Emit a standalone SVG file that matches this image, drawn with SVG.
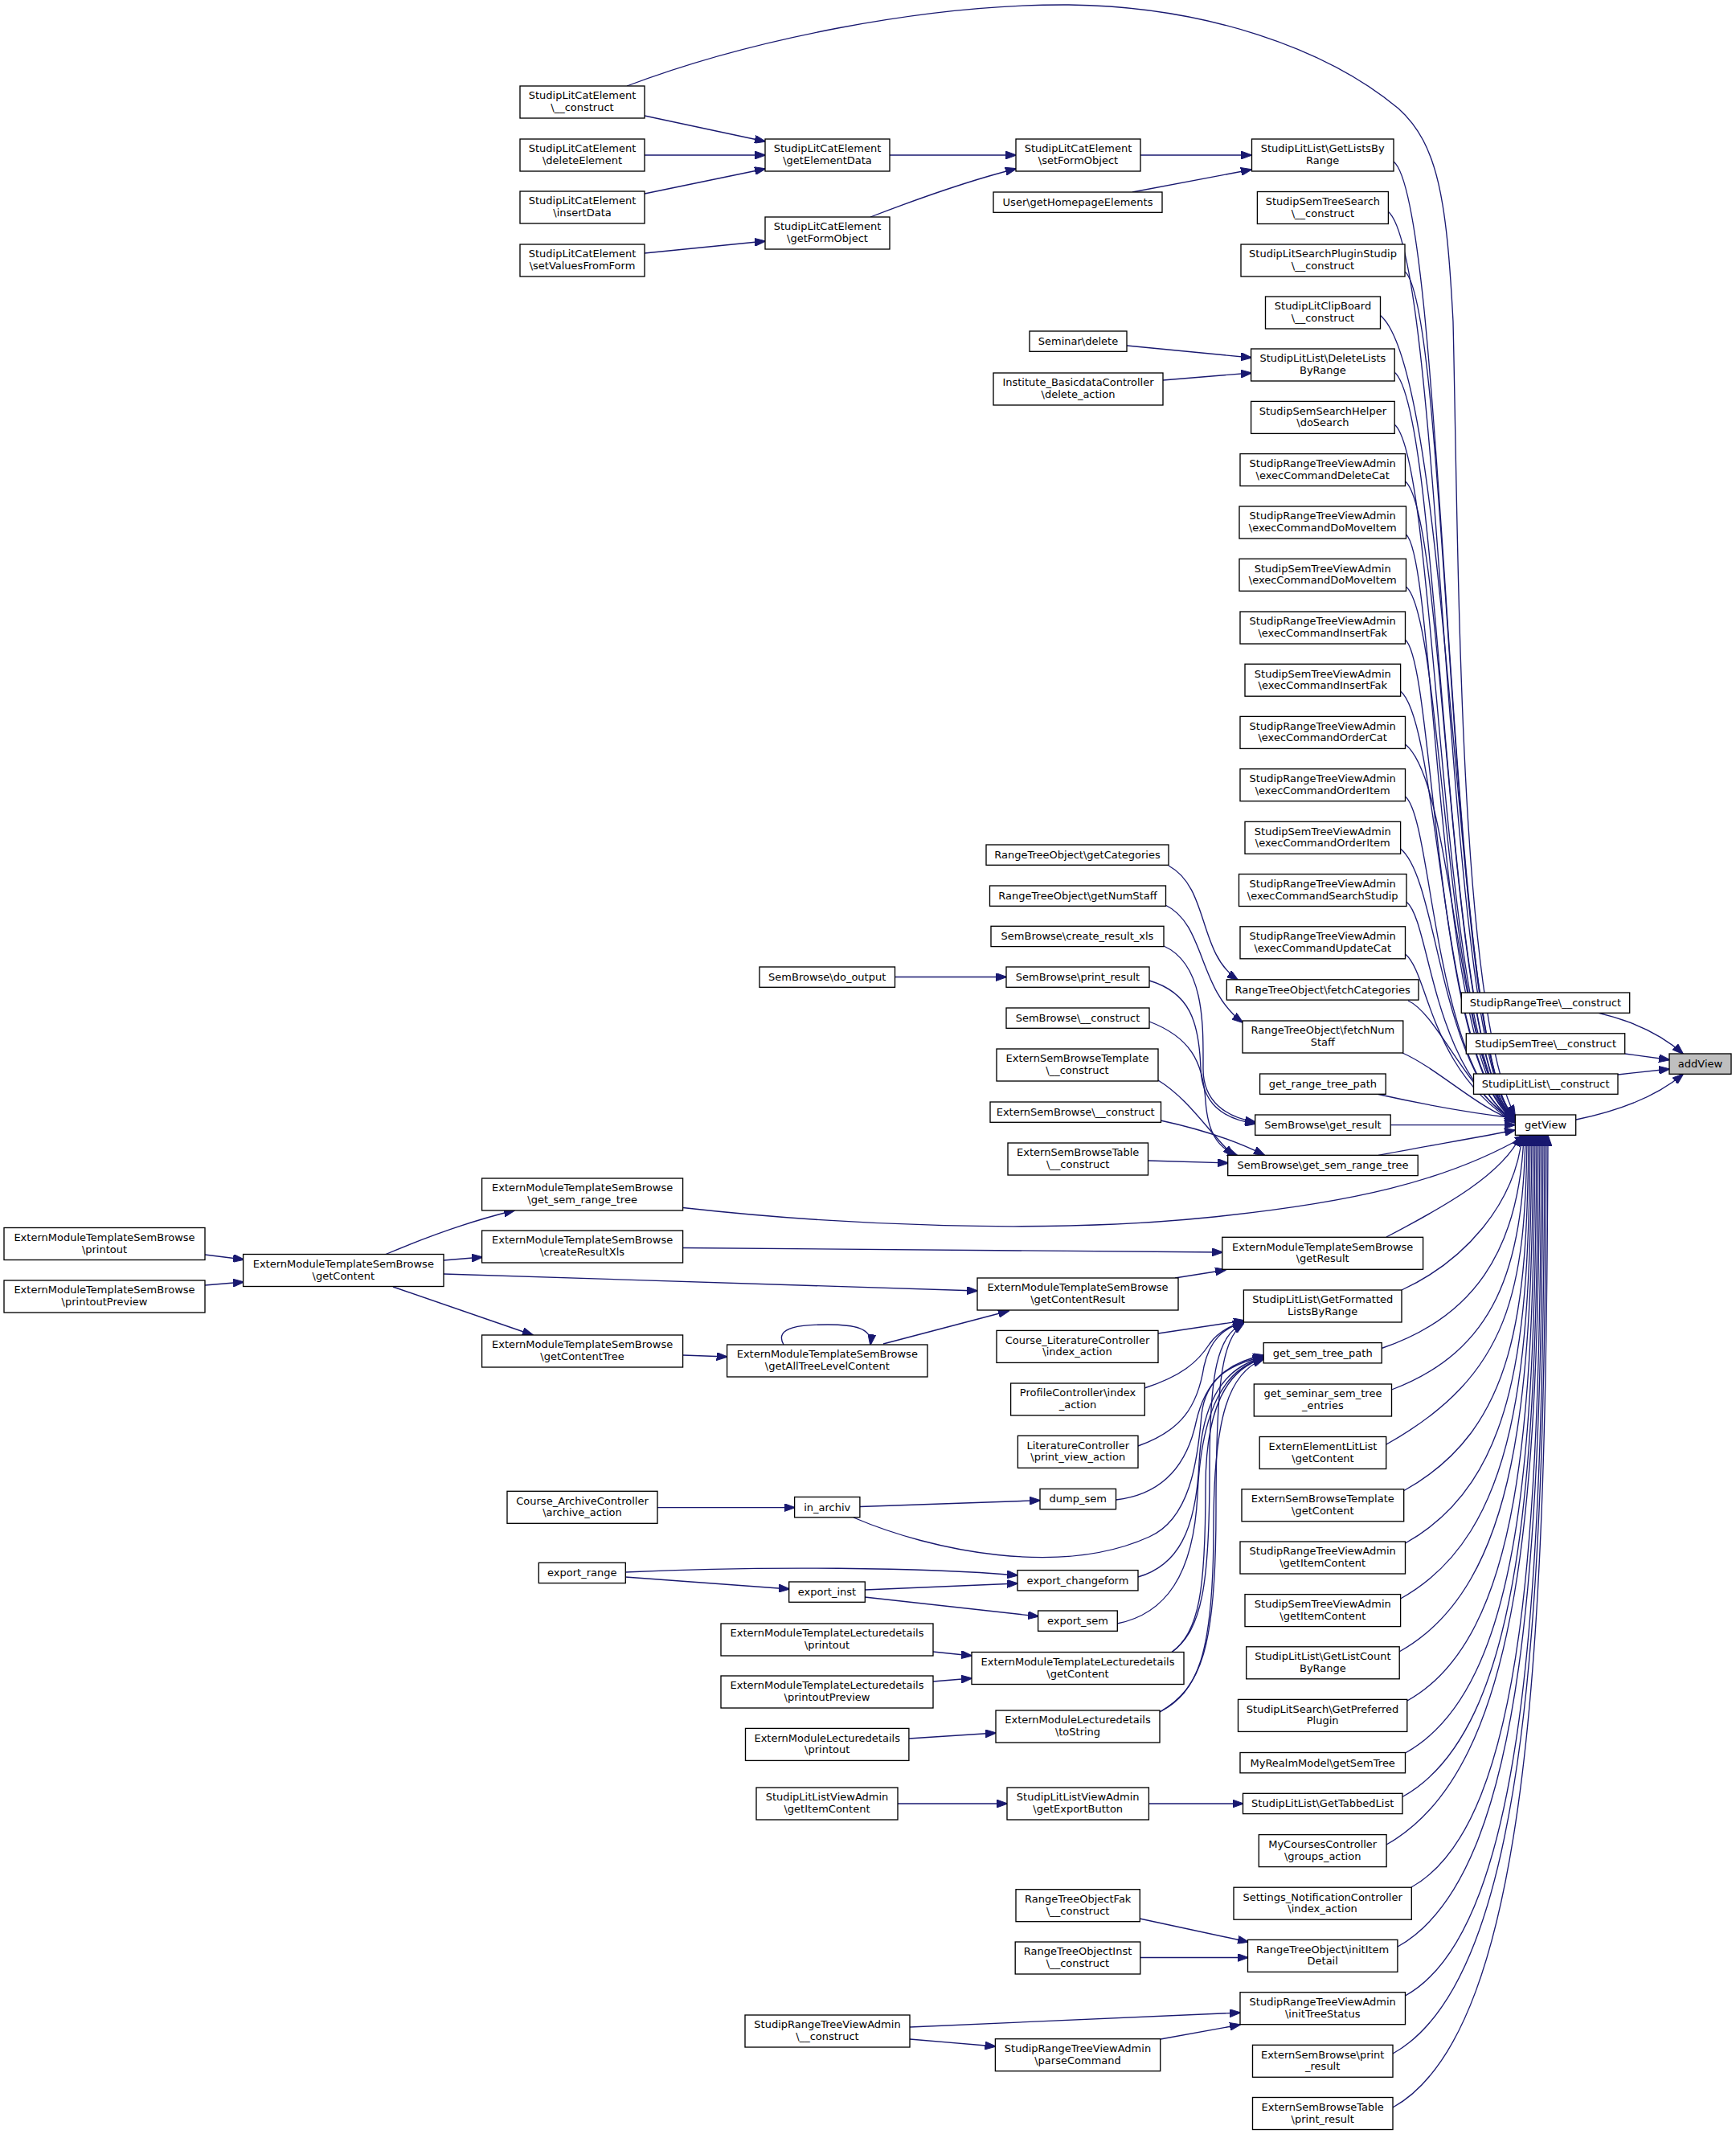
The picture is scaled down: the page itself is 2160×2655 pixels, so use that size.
<svg xmlns="http://www.w3.org/2000/svg" width="2160" height="2655" viewBox="0 0 2160 2655">
<defs>
<style>
.node rect{fill:#ffffff;stroke:#000000;stroke-width:1.33}
.node.root rect{fill:#bfbfbf}
.node text{font-family:"DejaVu Sans",Verdana,sans-serif;font-size:13px;text-anchor:middle;fill:#000000}
#edges path{fill:none;stroke:#191970;stroke-width:1.33;marker-end:url(#ah)}
</style>
<marker id="ah" markerUnits="userSpaceOnUse" markerWidth="14" markerHeight="10" refX="13" refY="5" orient="auto">
<path d="M0,0 L14,5 L0,10 z" fill="#191970" stroke="#191970" stroke-width="1"/>
</marker>
</defs>
<rect x="0" y="0" width="2160" height="2655" fill="#ffffff"/>

<g id="edges">
<path d="M802,144 L952,176"/>
<path d="M802,193 L952,193"/>
<path d="M802,241 L952,210"/>
<path d="M802,315 L952,300"/>
<path d="M1107,193 L1264,193"/>
<path d="M1083,270 C1140,248 1200,226 1264,210"/>
<path d="M1419,193 L1557,193"/>
<path d="M1409,239 L1557,211"/>
<path d="M1402,430 L1557,445"/>
<path d="M1447,473 L1557,464"/>
<path d="M1454,1077 C1505,1105 1490,1185 1540,1219"/>
<path d="M1450,1126 C1500,1150 1490,1230 1546,1272"/>
<path d="M1448,1177 C1500,1200 1497,1280 1497,1330 C1497,1370 1525,1390 1562,1396"/>
<path d="M1430,1220 C1480,1235 1492,1270 1494,1330 C1496,1372 1520,1392 1562,1398"/>
<path d="M1430,1271 C1480,1290 1497,1320 1500,1370 C1503,1410 1515,1428 1540,1438"/>
<path d="M1441,1344 C1480,1368 1505,1410 1535,1438"/>
<path d="M1444,1394 C1495,1405 1535,1418 1573,1437"/>
<path d="M1428.5,1444 L1528,1447"/>
<path d="M1113.5,1215.5 L1252,1215.5"/>
<path d="M849.5,1502.5 C1050,1525 1300,1535 1500,1515 C1680,1497 1800,1470 1898,1413"/>
<path d="M480,1560.5 C540,1535 590,1518 640,1506"/>
<path d="M552,1568 L600,1564"/>
<path d="M552,1585 L1216,1606"/>
<path d="M489,1601 L663,1661"/>
<path d="M255,1561 L303,1567"/>
<path d="M255,1599 L303,1595"/>
<path d="M849.5,1686 L904.6,1688"/>
<path d="M975,1673 C962,1650 1000,1648 1030,1648 C1062,1648 1086,1652 1083,1673"/>
<path d="M1099,1672 L1255,1631"/>
<path d="M1462,1590 L1525,1580"/>
<path d="M849.5,1552.5 C1100,1554 1350,1556 1521,1558"/>
<path d="M1441,1659 L1548,1643"/>
<path d="M1424,1727 C1470,1712 1490,1695 1505,1672 C1515,1658 1528,1650 1547,1645"/>
<path d="M1416,1799 C1470,1780 1490,1750 1498,1700 C1505,1668 1522,1652 1547,1645"/>
<path d="M818,1875.6 L988.6,1875.6"/>
<path d="M1070,1874.5 L1294,1866.7"/>
<path d="M1388.5,1866 C1440,1860 1475,1830 1488,1770 C1500,1715 1530,1695 1572,1686"/>
<path d="M1062,1888 C1160,1930 1320,1962 1430,1912 C1480,1890 1490,1820 1495,1760 C1500,1715 1530,1697 1572,1688"/>
<path d="M778,1956 C950,1948 1150,1950 1266,1960"/>
<path d="M778,1962 L982,1977"/>
<path d="M1076,1978 L1266,1970"/>
<path d="M1076,1987 L1292,2011"/>
<path d="M1416,1962 C1465,1948 1488,1905 1492,1820 C1496,1740 1525,1700 1572,1689"/>
<path d="M1390,2020 C1450,2008 1485,1960 1490,1860 C1495,1750 1525,1702 1572,1690"/>
<path d="M1161,2055 L1209,2060"/>
<path d="M1161,2092 L1209,2088"/>
<path d="M1458,2055.5 C1492,2030 1500,1980 1500,1850 C1500,1745 1530,1702 1572,1690"/>
<path d="M1458,2055.5 C1496,2028 1505,1970 1505,1830 C1505,1705 1515,1662 1547,1646"/>
<path d="M1443,2130 C1490,2105 1510,2060 1510,1900 C1510,1760 1530,1707 1572,1691"/>
<path d="M1443,2130 C1495,2100 1513,2050 1513,1880 C1513,1722 1520,1666 1547,1647"/>
<path d="M1131,2163 L1239,2156"/>
<path d="M1117,2244 L1253,2244"/>
<path d="M1429.4,2244 L1546.5,2244"/>
<path d="M1418,2387 L1553,2416"/>
<path d="M1419,2435.5 L1552.5,2435.5"/>
<path d="M1132,2522 C1300,2515 1450,2509 1543,2504"/>
<path d="M1132,2537 L1238.4,2546"/>
<path d="M1444,2537 L1543,2519"/>
<path d="M780,107 C930,50 1150,5 1330,6 C1500,8 1650,60 1740,135 C1790,180 1800,250 1808,400 C1815,700 1815,1250 1885,1388"/>
<path d="M1734,201 C1800,254 1800,1330 1885,1389"/>
<path d="M1727,263 C1797,319 1797,1330 1885,1390"/>
<path d="M1748,338 C1803,382 1803,1330 1885,1390"/>
<path d="M1717,392 C1808,465 1808,1330 1885,1391"/>
<path d="M1735,463 C1795,511 1795,1330 1885,1391"/>
<path d="M1735,528 C1790,572 1790,1330 1885,1392"/>
<path d="M1748.5,599 C1800,640 1800,1330 1885,1392"/>
<path d="M1749.5,665 C1787,695 1787,1330 1885,1393"/>
<path d="M1749.5,730 C1797,768 1797,1330 1885,1393"/>
<path d="M1748.5,796 C1785,825 1785,1330 1885,1394"/>
<path d="M1742.6,860 C1792,900 1792,1330 1885,1394"/>
<path d="M1748.5,926 C1810,975 1810,1330 1885,1395"/>
<path d="M1748.5,991 C1783,1019 1783,1330 1885,1395"/>
<path d="M1742.6,1056 C1790,1094 1790,1330 1885,1396"/>
<path d="M1750,1122 C1780,1146 1780,1330 1885,1396"/>
<path d="M1748.5,1187 C1778,1211 1778,1330 1885,1397"/>
<path d="M1752,1245 C1790,1262 1830,1370 1885,1392"/>
<path d="M1745,1310 C1790,1330 1840,1380 1885,1394"/>
<path d="M1715,1361.5 C1780,1376 1840,1386 1885,1391"/>
<path d="M1730,1399.6 L1885,1399.6"/>
<path d="M1715,1437.3 C1780,1425 1840,1415 1885,1406"/>
<path d="M1725,1539 C1800,1500 1870,1460 1892,1413"/>
<path d="M1744,1605 C1820,1570 1885,1500 1894,1413"/>
<path d="M1719,1677.5 C1830,1640 1890,1560 1896,1413"/>
<path d="M1731.5,1729 C1860,1680 1895,1580 1898,1413"/>
<path d="M1725,1797 C1880,1710 1898,1605 1900,1413"/>
<path d="M1747,1854.5 C1886,1777 1900,1633 1902,1413"/>
<path d="M1748.5,1920 C1888,1842 1902,1666 1904,1413"/>
<path d="M1742.6,1989 C1890,1907 1904,1700 1906,1413"/>
<path d="M1741,2055 C1891,1971 1906,1733 1908,1413"/>
<path d="M1751,2116 C1894,2036 1908,1764 1910,1413"/>
<path d="M1748.5,2181 C1896,2099 1910,1796 1912,1413"/>
<path d="M1745,2235.5 C1897,2151 1912,1824 1914,1413"/>
<path d="M1725,2295 C1897,2199 1914,1853 1916,1413"/>
<path d="M1756,2348 C1902,2267 1916,1880 1918,1413"/>
<path d="M1739,2422 C1902,2331 1918,1917 1920,1413"/>
<path d="M1748.5,2483 C1905,2396 1920,1947 1922,1413"/>
<path d="M1733,2555 C1905,2459 1922,1983 1924,1413"/>
<path d="M1733,2622 C1907,2525 1924,2017 1926,1413"/>
<path d="M1989,1260.4 C2030,1270 2065,1285 2094,1311"/>
<path d="M2021.7,1311 L2077,1318.5"/>
<path d="M2013,1337 L2077,1330"/>
<path d="M1961,1393 C2010,1383 2060,1365 2094,1336.5"/>
</g>

<g id="n_addView" class="node root"><rect x="2077" y="1311" width="77" height="25.3"/><text x="2115.5" y="1328">addView</text></g>
<g id="n_getView" class="node"><rect x="1885.4" y="1387" width="75.3" height="25.3"/><text x="1923" y="1404">getView</text></g>
<g id="n_StudipRangeTree_construct" class="node"><rect x="1818.3" y="1235" width="209.4" height="25.3"/><text x="1923" y="1252">StudipRangeTree\__construct</text></g>
<g id="n_StudipSemTree_construct" class="node"><rect x="1824.3" y="1285.8" width="197.4" height="25.3"/><text x="1923" y="1302.8">StudipSemTree\__construct</text></g>
<g id="n_StudipLitList_construct" class="node"><rect x="1833.5" y="1336" width="179.5" height="25.3"/><text x="1923.2" y="1353">StudipLitList\__construct</text></g>

<g id="n_slce_construct" class="node"><rect x="647" y="107" width="155" height="40"/><text x="724.5" y="123.3">StudipLitCatElement</text><text x="724.5" y="138">\__construct</text></g>
<g id="n_slce_deleteElement" class="node"><rect x="647" y="173" width="155" height="40"/><text x="724.5" y="189.3">StudipLitCatElement</text><text x="724.5" y="204">\deleteElement</text></g>
<g id="n_slce_insertData" class="node"><rect x="647" y="238" width="155" height="40"/><text x="724.5" y="254.3">StudipLitCatElement</text><text x="724.5" y="269">\insertData</text></g>
<g id="n_slce_setValuesFromForm" class="node"><rect x="647" y="304" width="155" height="40"/><text x="724.5" y="320.3">StudipLitCatElement</text><text x="724.5" y="335">\setValuesFromForm</text></g>
<g id="n_slce_getElementData" class="node"><rect x="952" y="173" width="155" height="40"/><text x="1029.5" y="189.3">StudipLitCatElement</text><text x="1029.5" y="204">\getElementData</text></g>
<g id="n_slce_getFormObject" class="node"><rect x="952" y="270" width="155" height="40"/><text x="1029.5" y="286.3">StudipLitCatElement</text><text x="1029.5" y="301">\getFormObject</text></g>
<g id="n_slce_setFormObject" class="node"><rect x="1264" y="173" width="155" height="40"/><text x="1341.5" y="189.3">StudipLitCatElement</text><text x="1341.5" y="204">\setFormObject</text></g>
<g id="n_user_getHomepageElements" class="node"><rect x="1236" y="239" width="210" height="25.3"/><text x="1341" y="256">User\getHomepageElements</text></g>
<g id="n_seminar_delete" class="node"><rect x="1281" y="412" width="121" height="25.3"/><text x="1341.5" y="429">Seminar\delete</text></g>
<g id="n_institute_delete_action" class="node"><rect x="1236" y="464" width="211" height="40"/><text x="1341.5" y="480.3">Institute_BasicdataController</text><text x="1341.5" y="495">\delete_action</text></g>
<g id="n_rto_getCategories" class="node"><rect x="1227" y="1051" width="227" height="25.3"/><text x="1340.5" y="1068">RangeTreeObject\getCategories</text></g>
<g id="n_rto_getNumStaff" class="node"><rect x="1231.5" y="1102" width="219" height="25.3"/><text x="1341" y="1119">RangeTreeObject\getNumStaff</text></g>
<g id="n_sb_create_result_xls" class="node"><rect x="1233" y="1152.3" width="215" height="25.3"/><text x="1340.5" y="1169.3">SemBrowse\create_result_xls</text></g>
<g id="n_sb_do_output" class="node"><rect x="945" y="1203" width="168.5" height="25.3"/><text x="1029.2" y="1220">SemBrowse\do_output</text></g>
<g id="n_sb_print_result" class="node"><rect x="1252" y="1203" width="178" height="25.3"/><text x="1341" y="1220">SemBrowse\print_result</text></g>
<g id="n_sb_construct" class="node"><rect x="1252" y="1254" width="178" height="25.3"/><text x="1341" y="1271">SemBrowse\__construct</text></g>
<g id="n_esbt_construct" class="node"><rect x="1240" y="1305" width="201" height="40"/><text x="1340.5" y="1321.3">ExternSemBrowseTemplate</text><text x="1340.5" y="1336">\__construct</text></g>
<g id="n_esb_construct" class="node"><rect x="1232" y="1371" width="212.5" height="25.3"/><text x="1338.2" y="1388">ExternSemBrowse\__construct</text></g>
<g id="n_esbtable_construct" class="node"><rect x="1254" y="1422" width="174.5" height="40"/><text x="1341.2" y="1438.3">ExternSemBrowseTable</text><text x="1341.2" y="1453">\__construct</text></g>
<g id="n_emtsb_get_sem_range_tree" class="node"><rect x="599.6" y="1466" width="250" height="40"/><text x="724.6" y="1482.3">ExternModuleTemplateSemBrowse</text><text x="724.6" y="1497">\get_sem_range_tree</text></g>
<g id="n_emtsb_createResultXls" class="node"><rect x="599.6" y="1531" width="250" height="40"/><text x="724.6" y="1547.3">ExternModuleTemplateSemBrowse</text><text x="724.6" y="1562">\createResultXls</text></g>
<g id="n_emtsb_printout" class="node"><rect x="5" y="1527.5" width="250" height="40"/><text x="130" y="1543.8">ExternModuleTemplateSemBrowse</text><text x="130" y="1558.5">\printout</text></g>
<g id="n_emtsb_printoutPreview" class="node"><rect x="5" y="1593" width="250" height="40"/><text x="130" y="1609.3">ExternModuleTemplateSemBrowse</text><text x="130" y="1624">\printoutPreview</text></g>
<g id="n_emtsb_getContent" class="node"><rect x="302.6" y="1560.5" width="249.4" height="40"/><text x="427.3" y="1576.8">ExternModuleTemplateSemBrowse</text><text x="427.3" y="1591.5">\getContent</text></g>
<g id="n_emtsb_getContentTree" class="node"><rect x="599.6" y="1661" width="250" height="40"/><text x="724.6" y="1677.3">ExternModuleTemplateSemBrowse</text><text x="724.6" y="1692">\getContentTree</text></g>
<g id="n_emtsb_getAllTreeLevelContent" class="node"><rect x="904.6" y="1673" width="249.4" height="40"/><text x="1029.3" y="1689.3">ExternModuleTemplateSemBrowse</text><text x="1029.3" y="1704">\getAllTreeLevelContent</text></g>
<g id="n_emtsb_getContentResult" class="node"><rect x="1216" y="1590" width="250" height="40"/><text x="1341" y="1606.3">ExternModuleTemplateSemBrowse</text><text x="1341" y="1621">\getContentResult</text></g>
<g id="n_course_literature_index" class="node"><rect x="1240" y="1655.4" width="201" height="40"/><text x="1340.5" y="1671.7">Course_LiteratureController</text><text x="1340.5" y="1686.4">\index_action</text></g>
<g id="n_profile_index" class="node"><rect x="1257.6" y="1721" width="166.7" height="40"/><text x="1341" y="1737.3">ProfileController\index</text><text x="1341" y="1752">_action</text></g>
<g id="n_literature_print_view" class="node"><rect x="1266.4" y="1786.3" width="149.6" height="40"/><text x="1341.2" y="1802.6">LiteratureController</text><text x="1341.2" y="1817.3">\print_view_action</text></g>
<g id="n_course_archive_action" class="node"><rect x="631" y="1855.3" width="187" height="40"/><text x="724.5" y="1871.6">Course_ArchiveController</text><text x="724.5" y="1886.3">\archive_action</text></g>
<g id="n_in_archiv" class="node"><rect x="988.6" y="1862.5" width="81.3" height="25.3"/><text x="1029.2" y="1879.5">in_archiv</text></g>
<g id="n_dump_sem" class="node"><rect x="1294" y="1852.4" width="94.5" height="25.3"/><text x="1341.2" y="1869.4">dump_sem</text></g>
<g id="n_export_range" class="node"><rect x="670.3" y="1944.3" width="108" height="25.3"/><text x="724.3" y="1961.3">export_range</text></g>
<g id="n_export_inst" class="node"><rect x="981.7" y="1968" width="94.6" height="25.3"/><text x="1029" y="1985">export_inst</text></g>
<g id="n_export_changeform" class="node"><rect x="1266" y="1953.6" width="150" height="25.3"/><text x="1341" y="1970.6">export_changeform</text></g>
<g id="n_export_sem" class="node"><rect x="1291.6" y="2004" width="98.7" height="25.3"/><text x="1341" y="2021">export_sem</text></g>
<g id="n_emtld_printout" class="node"><rect x="897" y="2020" width="264" height="40"/><text x="1029" y="2036.3">ExternModuleTemplateLecturedetails</text><text x="1029" y="2051">\printout</text></g>
<g id="n_emtld_printoutPreview" class="node"><rect x="897" y="2085" width="264" height="40"/><text x="1029" y="2101.3">ExternModuleTemplateLecturedetails</text><text x="1029" y="2116">\printoutPreview</text></g>
<g id="n_emtld_getContent" class="node"><rect x="1209" y="2055.5" width="264" height="40"/><text x="1341" y="2071.8">ExternModuleTemplateLecturedetails</text><text x="1341" y="2086.5">\getContent</text></g>
<g id="n_emld_toString" class="node"><rect x="1239" y="2128" width="204" height="40"/><text x="1341" y="2144.3">ExternModuleLecturedetails</text><text x="1341" y="2159">\toString</text></g>
<g id="n_emld_printout" class="node"><rect x="927.5" y="2150.4" width="203.4" height="40"/><text x="1029.2" y="2166.7">ExternModuleLecturedetails</text><text x="1029.2" y="2181.4">\printout</text></g>
<g id="n_sllva_getItemContent" class="node"><rect x="941" y="2224" width="176" height="40"/><text x="1029" y="2240.3">StudipLitListViewAdmin</text><text x="1029" y="2255">\getItemContent</text></g>
<g id="n_sllva_getExportButton" class="node"><rect x="1253" y="2224" width="176.4" height="40"/><text x="1341.2" y="2240.3">StudipLitListViewAdmin</text><text x="1341.2" y="2255">\getExportButton</text></g>
<g id="n_rtofak_construct" class="node"><rect x="1264" y="2350.7" width="154.3" height="40"/><text x="1341.2" y="2367">RangeTreeObjectFak</text><text x="1341.2" y="2381.7">\__construct</text></g>
<g id="n_rtoinst_construct" class="node"><rect x="1263.2" y="2416" width="155.6" height="40"/><text x="1341" y="2432.3">RangeTreeObjectInst</text><text x="1341" y="2447">\__construct</text></g>
<g id="n_srtva_construct" class="node"><rect x="927" y="2507" width="205" height="40"/><text x="1029.5" y="2523.3">StudipRangeTreeViewAdmin</text><text x="1029.5" y="2538">\__construct</text></g>
<g id="n_srtva_parseCommand" class="node"><rect x="1238.4" y="2536.7" width="205.3" height="40"/><text x="1341" y="2553">StudipRangeTreeViewAdmin</text><text x="1341" y="2567.7">\parseCommand</text></g>

<g id="n_r01" class="node"><rect x="1557.5" y="173" width="176.5" height="40"/><text x="1645.7" y="189.3">StudipLitList\GetListsBy</text><text x="1645.7" y="204">Range</text></g>
<g id="n_r02" class="node"><rect x="1564.4" y="238.5" width="163" height="40"/><text x="1645.9" y="254.8">StudipSemTreeSearch</text><text x="1645.9" y="269.5">\__construct</text></g>
<g id="n_r03" class="node"><rect x="1544" y="304" width="204" height="40"/><text x="1646" y="320.3">StudipLitSearchPluginStudip</text><text x="1646" y="335">\__construct</text></g>
<g id="n_r04" class="node"><rect x="1574.5" y="369" width="143" height="40"/><text x="1646" y="385.3">StudipLitClipBoard</text><text x="1646" y="400">\__construct</text></g>
<g id="n_r05" class="node"><rect x="1556.6" y="434" width="178.6" height="40"/><text x="1645.9" y="450.3">StudipLitList\DeleteLists</text><text x="1645.9" y="465">ByRange</text></g>
<g id="n_r06" class="node"><rect x="1556.6" y="499.4" width="178.6" height="40"/><text x="1645.9" y="515.7">StudipSemSearchHelper</text><text x="1645.9" y="530.4">\doSearch</text></g>
<g id="n_r07" class="node"><rect x="1543" y="564.6" width="205.5" height="40"/><text x="1645.7" y="580.9">StudipRangeTreeViewAdmin</text><text x="1645.7" y="595.6">\execCommandDeleteCat</text></g>
<g id="n_r08" class="node"><rect x="1542" y="630" width="207.5" height="40"/><text x="1645.7" y="646.3">StudipRangeTreeViewAdmin</text><text x="1645.7" y="661">\execCommandDoMoveItem</text></g>
<g id="n_r09" class="node"><rect x="1542" y="695.3" width="207.5" height="40"/><text x="1645.7" y="711.6">StudipSemTreeViewAdmin</text><text x="1645.7" y="726.3">\execCommandDoMoveItem</text></g>
<g id="n_r10" class="node"><rect x="1543" y="761" width="205.5" height="40"/><text x="1645.7" y="777.3">StudipRangeTreeViewAdmin</text><text x="1645.7" y="792">\execCommandInsertFak</text></g>
<g id="n_r11" class="node"><rect x="1549" y="826.2" width="193.6" height="40"/><text x="1645.8" y="842.5">StudipSemTreeViewAdmin</text><text x="1645.8" y="857.2">\execCommandInsertFak</text></g>
<g id="n_r12" class="node"><rect x="1543" y="891.4" width="205.5" height="40"/><text x="1645.7" y="907.7">StudipRangeTreeViewAdmin</text><text x="1645.7" y="922.4">\execCommandOrderCat</text></g>
<g id="n_r13" class="node"><rect x="1543" y="956.7" width="205.5" height="40"/><text x="1645.7" y="973">StudipRangeTreeViewAdmin</text><text x="1645.7" y="987.7">\execCommandOrderItem</text></g>
<g id="n_r14" class="node"><rect x="1549" y="1022.3" width="193.6" height="40"/><text x="1645.8" y="1038.6">StudipSemTreeViewAdmin</text><text x="1645.8" y="1053.3">\execCommandOrderItem</text></g>
<g id="n_r15" class="node"><rect x="1541.5" y="1087.5" width="208.5" height="40"/><text x="1645.7" y="1103.8">StudipRangeTreeViewAdmin</text><text x="1645.7" y="1118.5">\execCommandSearchStudip</text></g>
<g id="n_r16" class="node"><rect x="1543" y="1152.8" width="205.5" height="40"/><text x="1645.7" y="1169.1">StudipRangeTreeViewAdmin</text><text x="1645.7" y="1183.8">\execCommandUpdateCat</text></g>
<g id="n_r17" class="node"><rect x="1526.3" y="1218.8" width="238.7" height="25.3"/><text x="1645.6" y="1235.8">RangeTreeObject\fetchCategories</text></g>
<g id="n_r18" class="node"><rect x="1546" y="1270" width="199.8" height="40"/><text x="1645.9" y="1286.3">RangeTreeObject\fetchNum</text><text x="1645.9" y="1301">Staff</text></g>
<g id="n_r19" class="node"><rect x="1567.6" y="1336" width="156.6" height="25.3"/><text x="1645.9" y="1353">get_range_tree_path</text></g>
<g id="n_r20" class="node"><rect x="1561.7" y="1387" width="168.5" height="25.3"/><text x="1646" y="1404">SemBrowse\get_result</text></g>
<g id="n_r21" class="node"><rect x="1527.7" y="1437.3" width="236.5" height="25.3"/><text x="1646" y="1454.3">SemBrowse\get_sem_range_tree</text></g>
<g id="n_r22" class="node"><rect x="1520.8" y="1539.3" width="249.8" height="40"/><text x="1645.7" y="1555.6">ExternModuleTemplateSemBrowse</text><text x="1645.7" y="1570.3">\getResult</text></g>
<g id="n_r23" class="node"><rect x="1547.4" y="1605" width="196.6" height="40"/><text x="1645.7" y="1621.3">StudipLitList\GetFormatted</text><text x="1645.7" y="1636">ListsByRange</text></g>
<g id="n_r24" class="node"><rect x="1572.2" y="1670.6" width="147" height="25.3"/><text x="1645.7" y="1687.6">get_sem_tree_path</text></g>
<g id="n_r25" class="node"><rect x="1560.3" y="1722" width="171.2" height="40"/><text x="1645.9" y="1738.3">get_seminar_sem_tree</text><text x="1645.9" y="1753">_entries</text></g>
<g id="n_r26" class="node"><rect x="1567.2" y="1787.5" width="157.5" height="40"/><text x="1646" y="1803.8">ExternElementLitList</text><text x="1646" y="1818.5">\getContent</text></g>
<g id="n_r27" class="node"><rect x="1545" y="1852.8" width="201.7" height="40"/><text x="1645.8" y="1869.1">ExternSemBrowseTemplate</text><text x="1645.8" y="1883.8">\getContent</text></g>
<g id="n_r28" class="node"><rect x="1543" y="1918" width="205.5" height="40"/><text x="1645.7" y="1934.3">StudipRangeTreeViewAdmin</text><text x="1645.7" y="1949">\getItemContent</text></g>
<g id="n_r29" class="node"><rect x="1549" y="1983.6" width="193.6" height="40"/><text x="1645.8" y="1999.9">StudipSemTreeViewAdmin</text><text x="1645.8" y="2014.6">\getItemContent</text></g>
<g id="n_r30" class="node"><rect x="1550.7" y="2048.8" width="190.5" height="40"/><text x="1645.9" y="2065.1">StudipLitList\GetListCount</text><text x="1645.9" y="2079.8">ByRange</text></g>
<g id="n_r31" class="node"><rect x="1540.5" y="2114.4" width="210.3" height="40"/><text x="1645.6" y="2130.7">StudipLitSearch\GetPreferred</text><text x="1645.6" y="2145.4">Plugin</text></g>
<g id="n_r32" class="node"><rect x="1543" y="2180.5" width="205.5" height="25.3"/><text x="1645.7" y="2197.5">MyRealmModel\getSemTree</text></g>
<g id="n_r33" class="node"><rect x="1546.5" y="2231.3" width="198.5" height="25.3"/><text x="1645.7" y="2248.3">StudipLitList\GetTabbedList</text></g>
<g id="n_r34" class="node"><rect x="1566.3" y="2282.6" width="158.8" height="40"/><text x="1645.7" y="2298.9">MyCoursesController</text><text x="1645.7" y="2313.6">\groups_action</text></g>
<g id="n_r35" class="node"><rect x="1535" y="2348.2" width="221.3" height="40"/><text x="1645.6" y="2364.5">Settings_NotificationController</text><text x="1645.6" y="2379.2">\index_action</text></g>
<g id="n_r36" class="node"><rect x="1552.5" y="2413.4" width="186.4" height="40"/><text x="1645.7" y="2429.7">RangeTreeObject\initItem</text><text x="1645.7" y="2444.4">Detail</text></g>
<g id="n_r37" class="node"><rect x="1543" y="2478.7" width="205.5" height="40"/><text x="1645.7" y="2495">StudipRangeTreeViewAdmin</text><text x="1645.7" y="2509.7">\initTreeStatus</text></g>
<g id="n_r38" class="node"><rect x="1558.5" y="2544.3" width="174.5" height="40"/><text x="1645.7" y="2560.6">ExternSemBrowse\print</text><text x="1645.7" y="2575.3">_result</text></g>
<g id="n_r39" class="node"><rect x="1558.5" y="2609.5" width="174.5" height="40"/><text x="1645.7" y="2625.8">ExternSemBrowseTable</text><text x="1645.7" y="2640.5">\print_result</text></g>
</svg>
